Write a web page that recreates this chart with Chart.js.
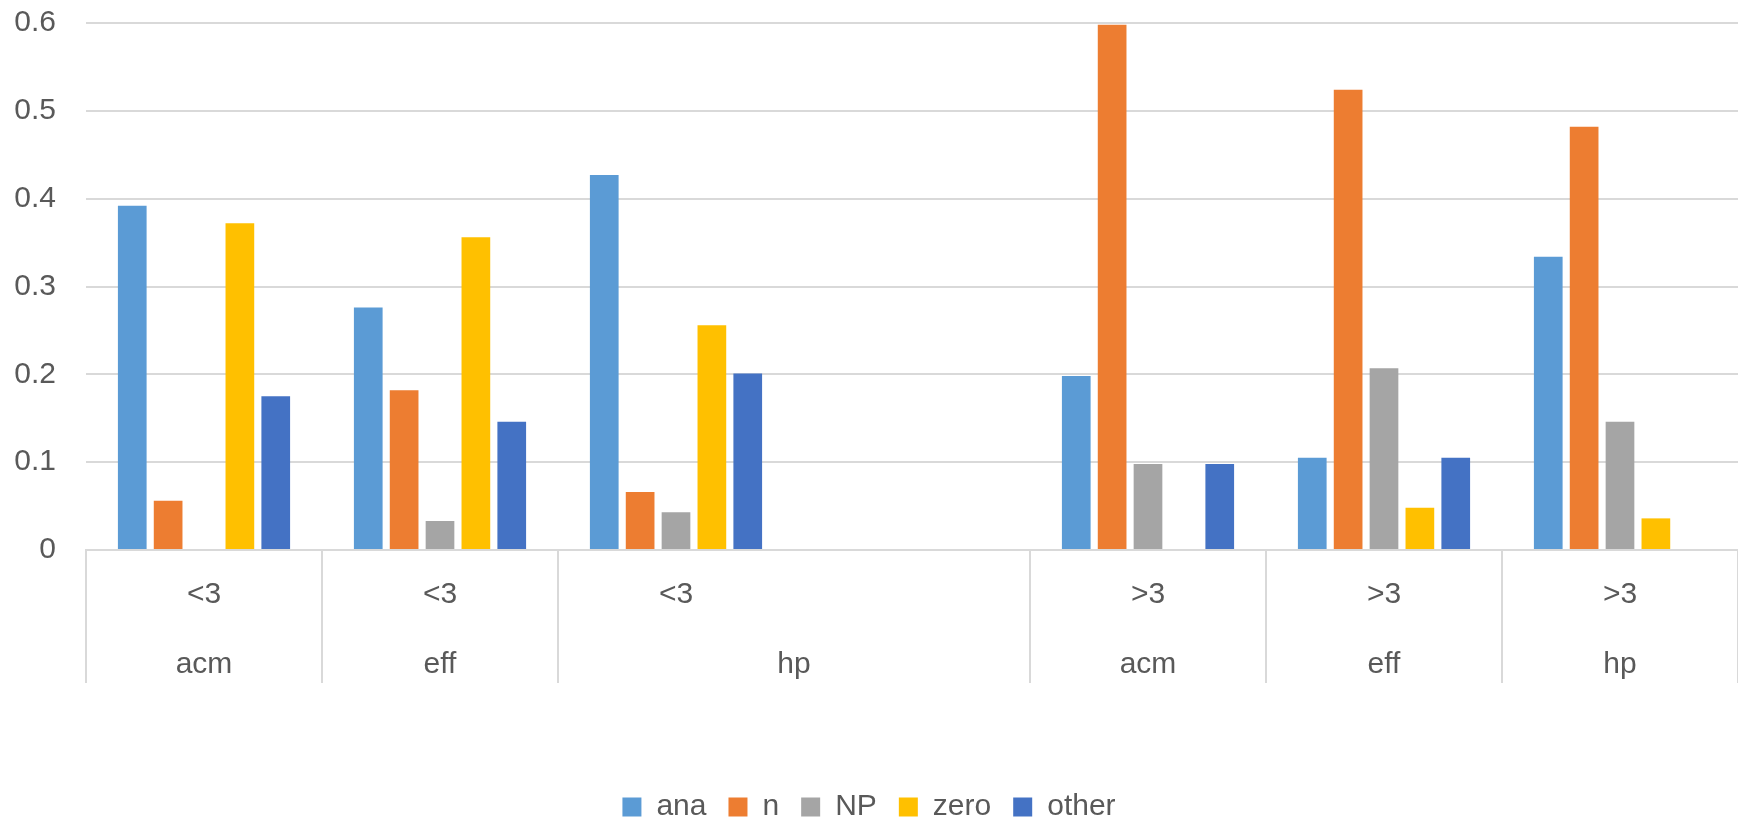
<!DOCTYPE html>
<html>
<head>
<meta charset="utf-8">
<script src="https://cdn.jsdelivr.net/npm/chart.js@4/dist/chart.umd.min.js"></script>
<style>
  html, body { margin: 0; padding: 0; background: #fff; }
  #wrap { width: 1738px; height: 817px; position: relative; }
</style>
</head>
<body>
<div id="wrap"><canvas id="chart"></canvas></div>
<script>
// inner row of the category axis, and the outer row ('' = merged with the one before)
const innerLabels = ['<3', '<3', '<3', '', '>3', '>3', '>3'];
const outerLabels = ['acm', 'eff', 'hp', '', 'acm', 'eff', 'hp'];

const anaValues   = [0.392, 0.276, 0.427, null, 0.198, 0.105, 0.334];
const nValues     = [0.056, 0.182, 0.066, null, 0.598, 0.524, 0.482];
const npValues    = [0,     0.033, 0.043, null, 0.098, 0.207, 0.146];
const zeroValues  = [0.372, 0.356, 0.256, null, 0,     0.048, 0.036];
const otherValues = [0.175, 0.146, 0.201, null, 0.098, 0.105, 0];

const textColor = '#595959';
const gridColor = '#d9d9d9';
const fontFamily = '"Liberation Sans", Arial, sans-serif';

// draws the outer label row, merging empty cells into the previous group
const outerRowPlugin = {
  id: 'outerRow',
  afterDraw(chart) {
    const xs = chart.scales.x;
    const ctx = chart.ctx;
    const n = outerLabels.length;
    const w = (xs.right - xs.left) / n;
    const groups = [];
    outerLabels.forEach((lab, i) => {
      if (lab === '' && groups.length) groups[groups.length - 1].to = i;
      else groups.push({ lab, from: i, to: i });
    });
    ctx.save();
    ctx.font = '30px ' + fontFamily;
    ctx.fillStyle = textColor;
    ctx.textAlign = 'center';
    ctx.textBaseline = 'middle';
    groups.forEach(g => {
      const x0 = xs.getPixelForValue(g.from) - w / 2;
      const x1 = xs.getPixelForValue(g.to) + w / 2;
      ctx.fillText(g.lab, (x0 + x1) / 2, xs.top + 115);
    });
    ctx.restore();
  }
};

const ctx = document.getElementById('chart');
new Chart(ctx, {
  type: 'bar',
  data: {
    labels: innerLabels,
    datasets: [
      { label: 'ana',   data: anaValues,   backgroundColor: '#5b9bd5' },
      { label: 'n',     data: nValues,     backgroundColor: '#ed7d31' },
      { label: 'NP',    data: npValues,    backgroundColor: '#a5a5a5' },
      { label: 'zero',  data: zeroValues,  backgroundColor: '#ffc000' },
      { label: 'other', data: otherValues, backgroundColor: '#4472c4' }
    ]
  },
  options: {
    responsive: true,
    maintainAspectRatio: false,
    animation: false,
    datasets: {
      bar: { categoryPercentage: 0.76, barPercentage: 0.8 }
    },
    layout: { padding: { top: 0, right: 0, bottom: -15, left: 0 } },
    plugins: {
      tooltip: { enabled: false },
      legend: {
        position: 'bottom',
        labels: {
          boxWidth: 19,
          boxHeight: 19,
          padding: 22,
          color: textColor,
          font: { size: 30, family: fontFamily }
        }
      }
    },
    scales: {
      x: {
        afterFit(scale) { scale.height = 220; },
        border: { display: true, color: gridColor, width: 2 },
        grid: {
          offset: true,
          drawOnChartArea: false,
          drawTicks: true,
          tickLength: 133,
          lineWidth: 2,
          color: c => (c.index === 3 || c.index === innerLabels.length) ? 'rgba(0,0,0,0)' : gridColor
        },
        ticks: {
          padding: -106,
          autoSkip: false,
          maxRotation: 0,
          color: textColor,
          font: { size: 30, family: fontFamily }
        }
      },
      y: {
        min: 0,
        max: 0.6,
        afterFit(scale) {
          scale.width = 86;
          scale.paddingTop = 23;
        },
        border: { display: false },
        grid: { color: gridColor, lineWidth: 2, drawTicks: false },
        ticks: {
          stepSize: 0.1,
          padding: 30,
          color: textColor,
          font: { size: 30, family: fontFamily }
        }
      }
    }
  },
  plugins: [outerRowPlugin]
});
</script>
</body>
</html>
